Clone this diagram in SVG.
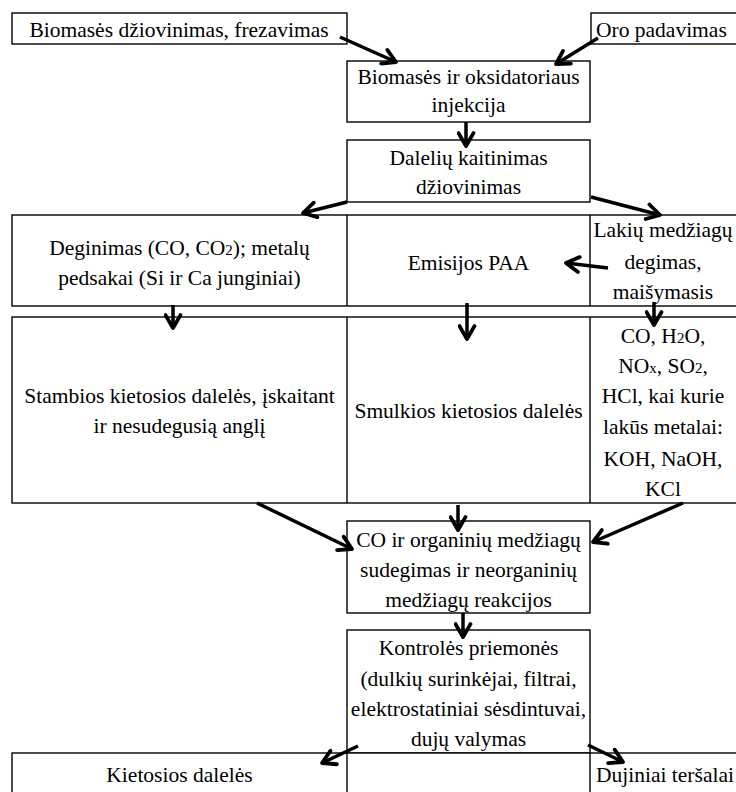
<svg xmlns="http://www.w3.org/2000/svg" width="736" height="792" viewBox="0 0 736 792">
<style>
.box{fill:#fff;stroke:#000;stroke-width:1.4}
.ln{stroke:#000;stroke-width:1.4}
text{font-family:"Liberation Serif","Times New Roman",serif;font-size:21.5px;fill:#000}
.c{text-anchor:middle}
.sub{font-size:15px}
.arr{stroke:#000;stroke-width:3.5;fill:none;marker-end:url(#ah)}
</style>
<defs>
<marker id="ah" viewBox="0 0 14 14" refX="12" refY="7" markerWidth="19" markerHeight="19" markerUnits="userSpaceOnUse" orient="auto">
<path d="M2.5,1.5 L12,7 L2.5,12.5" fill="none" stroke="#000" stroke-width="2.8" stroke-linecap="round" stroke-linejoin="round"/>
</marker>
</defs>
<rect width="736" height="792" fill="#fff"/>

<g id="n-dziovinimas">
<rect class="box" x="12" y="13" width="335" height="31"/>
<text class="c" x="179" y="37">Biomasės džiovinimas, frezavimas</text>
</g>
<g id="n-oro">
<rect class="box" x="591" y="13" width="150" height="31"/>
<text x="596" y="37">Oro padavimas</text>
</g>
<g id="n-injekcija">
<rect class="box" x="347" y="61" width="243" height="61"/>
<text class="c" x="468.5" y="84">Biomasės ir oksidatoriaus</text>
<text class="c" x="468.5" y="112">injekcija</text>
</g>
<g id="n-kaitinimas">
<rect class="box" x="347" y="140" width="243" height="62"/>
<text class="c" x="468.5" y="165">Dalelių kaitinimas</text>
<text class="c" x="468.5" y="194">džiovinimas</text>
</g>

<g id="row1">
<rect class="box" x="12" y="215" width="729" height="91"/>
<line class="ln" x1="347" y1="215" x2="347" y2="306"/>
<line class="ln" x1="590" y1="215" x2="590" y2="306"/>
</g>
<g id="n-deginimas">
<text class="c" x="179.5" y="255">Deginimas (CO, CO<tspan class="sub">2</tspan>); metalų</text>
<text class="c" x="179.5" y="285">pedsakai (Si ir Ca junginiai)</text>
</g>
<g id="n-paa">
<text class="c" x="468.5" y="270">Emisijos PAA</text>
</g>
<g id="n-lakiu">
<text class="c" x="663" y="237">Lakių medžiagų</text>
<text class="c" x="663" y="269">degimas,</text>
<text class="c" x="663" y="299">maišymasis</text>
</g>

<g id="row2">
<rect class="box" x="12" y="317" width="729" height="186"/>
<line class="ln" x1="347" y1="317" x2="347" y2="503"/>
<line class="ln" x1="590" y1="317" x2="590" y2="503"/>
</g>
<g id="n-stambios">
<text class="c" x="179.5" y="403">Stambios kietosios dalelės, įskaitant</text>
<text class="c" x="179.5" y="433">ir nesudegusią anglį</text>
</g>
<g id="n-smulkios">
<text class="c" x="468.5" y="418">Smulkios kietosios dalelės</text>
</g>
<g id="n-dujos">
<text class="c" x="663" y="343">CO, H<tspan class="sub">2</tspan>O,</text>
<text class="c" x="663" y="373">NO<tspan class="sub">x</tspan>, SO<tspan class="sub">2</tspan>,</text>
<text class="c" x="663" y="403">HCl, kai kurie</text>
<text class="c" x="663" y="434">lakūs metalai:</text>
<text class="c" x="663" y="466">KOH, NaOH,</text>
<text class="c" x="663" y="496">KCl</text>
</g>

<g id="n-sudegimas">
<rect class="box" x="347" y="521" width="243" height="92"/>
<text class="c" x="468.5" y="547">CO ir organinių medžiagų</text>
<text class="c" x="468.5" y="577">sudegimas ir neorganinių</text>
<text class="c" x="468.5" y="607">medžiagų reakcijos</text>
</g>
<g id="n-kontrole">
<rect class="box" x="347" y="630" width="243" height="123"/>
<text class="c" x="468.5" y="655">Kontrolės priemonės</text>
<text class="c" x="468.5" y="686">(dulkių surinkėjai, filtrai,</text>
<text class="c" x="468.5" y="716">elektrostatiniai sėsdintuvai,</text>
<text class="c" x="468.5" y="746">dujų valymas</text>
</g>

<g id="row3">
<rect class="box" x="12" y="753" width="729" height="50"/>
<line class="ln" x1="347" y1="753" x2="347" y2="792"/>
<line class="ln" x1="590" y1="753" x2="590" y2="792"/>
</g>
<g id="n-kietosios">
<text class="c" x="179.5" y="782">Kietosios dalelės</text>
</g>
<g id="n-dujiniai">
<text x="596" y="782">Dujiniai teršalai</text>
</g>

<g id="connectors">
<line class="arr" x1="340" y1="37" x2="396" y2="62"/>
<line class="arr" x1="598" y1="38" x2="556" y2="64"/>
<line class="arr" x1="466" y1="122" x2="466" y2="146"/>
<line class="arr" x1="347" y1="202" x2="303" y2="213"/>
<line class="arr" x1="591" y1="197" x2="660" y2="215"/>
<line class="arr" x1="608" y1="268" x2="566" y2="263"/>
<line class="arr" x1="173" y1="305" x2="173" y2="328"/>
<line class="arr" x1="467" y1="303" x2="467" y2="339"/>
<line class="arr" x1="654" y1="302" x2="654" y2="325"/>
<line class="arr" x1="257" y1="503" x2="352" y2="549"/>
<line class="arr" x1="458" y1="505" x2="458" y2="530"/>
<line class="arr" x1="683" y1="503" x2="593" y2="542"/>
<line class="arr" x1="463" y1="613" x2="463" y2="637"/>
<line class="arr" x1="358" y1="746" x2="322" y2="763"/>
<line class="arr" x1="588" y1="745" x2="623" y2="762"/>
</g>
</svg>
